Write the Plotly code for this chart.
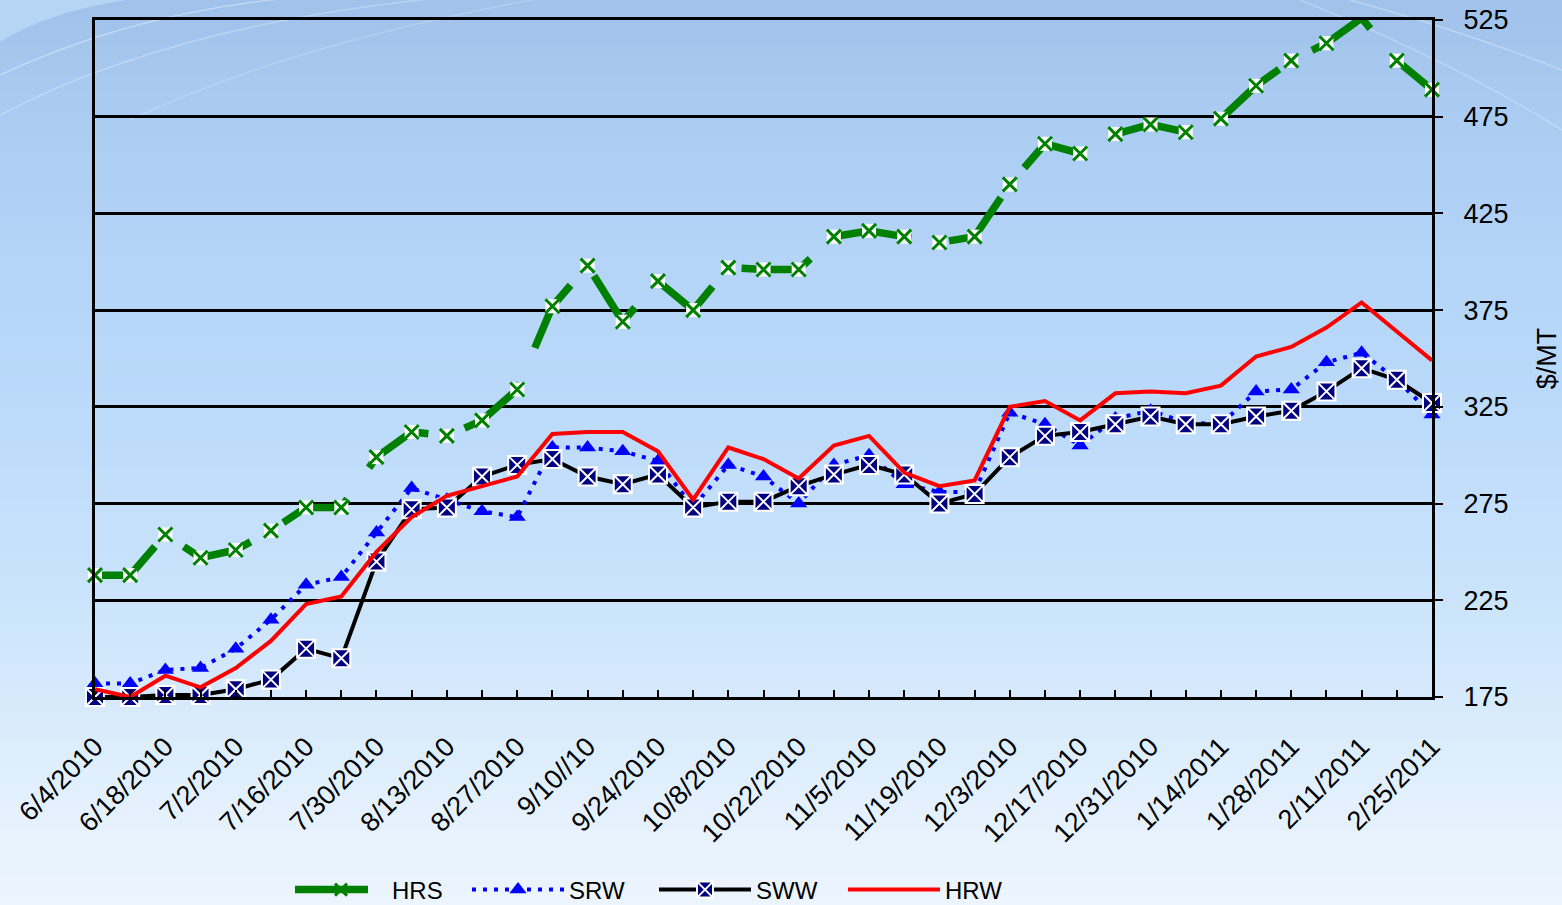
import plotly.graph_objects as go

# ---------------- data ----------------
weeks = list(range(39))  # weekly observations 6/4/2010 .. 2/25/2011
tick_labels = ["6/4/2010", "6/18/2010", "7/2/2010", "7/16/2010", "7/30/2010",
               "8/13/2010", "8/27/2010", "9/10//10", "9/24/2010", "10/8/2010",
               "10/22/2010", "11/5/2010", "11/19/2010", "12/3/2010", "12/17/2010",
               "12/31/2010", "1/14/2011", "1/28/2011", "2/11/2011", "2/25/2011"]

hrs = [238, 238, 259, 247, 251, 261, 273, 273, 299, 312, 310, 318, 334, 377,
       398, 369, 390, 375, 397, 396, 396, 413, 416, 413, 410, 413, 440, 461,
       456, 466, 471, 467, 474, 491, 504, 513, 526, 504, 489]
srw = [182, 182, 189, 190, 200, 215, 233, 237, 260, 283, 277, 271, 268, 304,
       304, 302, 297, 273, 295, 289, 275, 295, 300, 285, 281, 281, 322, 316,
       305, 319, 323, 317, 316, 333, 334, 348, 353, 339, 321]
sww = [175, 175, 176, 176, 179, 184, 200, 195, 245, 272, 273, 289, 295, 298,
       289, 285, 290, 273, 276, 276, 284, 290, 295, 290, 275, 280, 299, 310,
       312, 316, 320, 316, 316, 320, 323, 333, 345, 339, 327]
hrw = [179, 175, 186, 180, 190, 204, 223, 227, 250, 268, 279, 284, 289, 311,
       312, 312, 302, 277, 304, 298, 288, 305, 310, 291, 284, 287, 325, 328,
       318, 332, 333, 332, 336, 351, 356, 366, 379, 364, 349]

y_ticks = [175, 225, 275, 325, 375, 425, 475, 525]

ticktext = [tick_labels[i // 2] if i % 2 == 0 else "" for i in weeks]

FONT = "Liberation Sans, Arial, sans-serif"

fig = go.Figure()

# HRS: green dashed line with x markers on white boxes
fig.add_trace(go.Scatter(
    x=weeks, y=hrs, name="HRS", mode="lines+markers", legendwidth=70,
    line=dict(color="#008000", width=7.5, dash="73px,38px"),
    marker=dict(symbol="x-thin", size=12, line=dict(color="#008000", width=3)),
    cliponaxis=False))
fig.add_trace(go.Scatter(
    x=weeks, y=hrs, mode="markers", showlegend=False, hoverinfo="skip",
    marker=dict(symbol="square", size=14, color="white", line=dict(width=0)),
    cliponaxis=False))
fig.add_trace(go.Scatter(
    x=weeks, y=hrs, mode="markers", showlegend=False, hoverinfo="skip",
    marker=dict(symbol="x-thin", size=14, line=dict(color="#008000", width=3)),
    cliponaxis=False))

# SRW: blue dotted with triangles
fig.add_trace(go.Scatter(
    x=weeks, y=srw, name="SRW", mode="lines+markers", legendwidth=80,
    line=dict(color="#0000ff", width=4, dash="4px,7px"),
    marker=dict(symbol="triangle-up", size=15, color="#0000ff"),
    cliponaxis=False))

# SWW: black with navy square markers and white crosses
fig.add_trace(go.Scatter(
    x=weeks, y=sww, name="SWW", mode="lines+markers", legendwidth=82,
    line=dict(color="black", width=4),
    marker=dict(symbol="square-x", size=18, color="#000080",
                line=dict(color="white", width=2)),
    cliponaxis=False))

# HRW: red solid
fig.add_trace(go.Scatter(
    x=weeks, y=hrw, name="HRW", mode="lines",
    line=dict(color="#ff0000", width=4),
    cliponaxis=False))

# ---------------- background gradient ----------------
W, H = 1562, 905
L, R, T, B = 95, 130, 20, 208
pw, ph = W - L - R, H - T - B

stops = [(0, (160, 194, 234)), (100, (169, 203, 241)), (250, (179, 212, 247)),
         (400, (187, 218, 250)), (550, (198, 225, 251)), (700, (214, 234, 252)),
         (800, (227, 240, 253)), (905, (237, 245, 254))]


def col_at(py):
    for (a, ca), (b, cb) in zip(stops[:-1], stops[1:]):
        if a <= py <= b:
            t = (py - a) / (b - a)
            return tuple(int(round(ca[k] + (cb[k] - ca[k]) * t)) for k in range(3))
    return stops[-1][1]


def px2x(px):
    return (px - L) / pw


def py2y(py):
    return (H - B - py) / ph


shapes = []
n = 60
for k in range(n):
    y0p = H * k / n
    y1p = H * (k + 1) / n + 1
    c = col_at((y0p + y1p) / 2)
    shapes.append(dict(type="rect", xref="paper", yref="paper", layer="below",
                       x0=px2x(-2), x1=px2x(W + 2), y0=py2y(y1p), y1=py2y(y0p),
                       fillcolor="rgb(%d,%d,%d)" % c, line=dict(width=0)))


def pth(points):
    s = "M %f,%f" % (px2x(points[0][0]), py2y(points[0][1]))
    s += " Q %f,%f %f,%f" % (px2x(points[1][0]), py2y(points[1][1]),
                             px2x(points[2][0]), py2y(points[2][1]))
    return s


shapes.append(dict(type="path", xref="paper", yref="paper", layer="below",
                   path=pth([(0, 42), (50, 10), (140, -2)]) +
                   " L %f,%f L %f,%f Z" % (px2x(0), py2y(-2), px2x(0), py2y(42)),
                   fillcolor="rgba(200,228,252,0.55)", line=dict(width=0)))
for pts, op in [([(0, 75), (150, 5), (330, -5)], 0.35),
                ([(0, 115), (180, 20), (470, -5)], 0.25),
                ([(130, 120), (300, 40), (560, -5)], 0.18),
                ([(1350, 0), (1460, 30), (1562, 70)], 0.3),
                ([(1300, 0), (1450, 60), (1562, 130)], 0.25)]:
    shapes.append(dict(type="path", xref="paper", yref="paper", layer="below",
                       path=pth(pts), line=dict(color="rgba(255,255,255,%f)" % op, width=1.5)))

fig.update_layout(
    width=W, height=H,
    margin=dict(l=L, r=R, t=T, b=B, autoexpand=False),
    paper_bgcolor="#c4def9",
    plot_bgcolor="rgba(0,0,0,0)",
    font=dict(family=FONT, color="black"),
    shapes=shapes,
    showlegend=True,
    legend=dict(orientation="h", x=px2x(290), y=py2y(890), xanchor="left", yanchor="middle",
                font=dict(size=24, family=FONT), itemwidth=92,
                bgcolor="rgba(0,0,0,0)", traceorder="normal"),
    hovermode=False,
)

fig.update_xaxes(
    range=[0, 38], tickmode="array", tickvals=weeks, ticktext=ticktext,
    tickangle=-45, tickfont=dict(size=27, family=FONT),
    ticks="inside", ticklen=7, tickwidth=2, tickcolor="black",
    showline=True, linecolor="black", linewidth=3, mirror=True,
    showgrid=False, zeroline=False, automargin=False,
    ticklabelstandoff=20)

fig.update_yaxes(
    range=[175, 525], side="right", tickmode="array", tickvals=y_ticks,
    tickfont=dict(size=27, family=FONT),
    ticks="outside", ticklen=8, tickwidth=2, tickcolor="black",
    showline=True, linecolor="black", linewidth=3, mirror=True,
    showgrid=True, gridcolor="black", gridwidth=2.5,
    zeroline=False, automargin=False, ticklabelstandoff=15,
    title=dict(text="$/MT", font=dict(size=27, family=FONT), standoff=30))

fig.write_html("out.html", config={"displayModeBar": False},
               post_script="document.body.style.margin='0px';document.body.style.overflow='hidden';")
